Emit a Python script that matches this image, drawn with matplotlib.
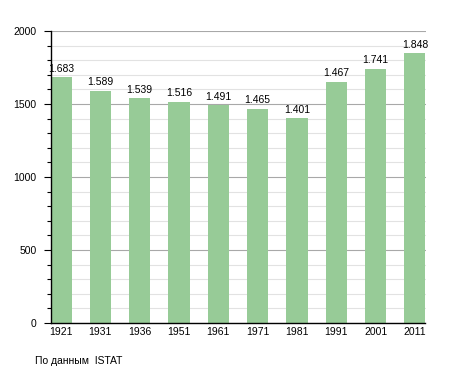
import numpy as np
import matplotlib
matplotlib.use("Agg")
import matplotlib.pyplot as plt
from matplotlib.ticker import MultipleLocator

plt.rcParams['font.family'] = ['Liberation Sans', 'DejaVu Sans']

# census years and population
years = ['1921', '1931', '1936', '1951', '1961', '1971', '1981', '1991', '2001', '2011']
population = [1683, 1589, 1539, 1516, 1491, 1465, 1401, 1653, 1741, 1848]
labels = ['1.683', '1.589', '1.539', '1.516', '1.491', '1.465', '1.401', '1.467', '1.741', '1.848']

fig = plt.figure(figsize=(4.55, 3.73), dpi=100)
ax = fig.add_axes([50.5/455, 1 - 323/373, (425.5 - 50.5)/455, (323 - 31)/373])

x = np.arange(len(years))
w = 0.535
ax.bar(x, population, width=w, color='#97cb97', zorder=3)
for xi, v, s in zip(x, population, labels):
    ax.text(xi, v + 25, s, ha='center', va='bottom', fontsize=7.5, color='black')

ax.set_xlim(-w/2, len(years) - 1 + w/2)
ax.set_ylim(0, 2000)
ax.yaxis.set_major_locator(MultipleLocator(500))
ax.yaxis.set_minor_locator(MultipleLocator(100))
ax.grid(True, which='major', axis='y', color='#a8a8a8', lw=0.8, zorder=1)
ax.grid(True, which='minor', axis='y', color='#e2e2e2', lw=0.8, zorder=1)

ax.set_xticks(x)
ax.set_xticklabels(years)
ax.tick_params(axis='x', length=0, pad=3, labelsize=7.5)
ax.tick_params(axis='y', which='major', length=5, width=0.8, pad=5, labelsize=7.5)
ax.tick_params(axis='y', which='minor', length=3, width=0.8)

for s in ['top', 'right']:
    ax.spines[s].set_visible(False)
ax.spines['left'].set_linewidth(1)
ax.spines['bottom'].set_linewidth(1)
ax.spines['left'].set_zorder(4)
ax.spines['bottom'].set_zorder(4)

fig.text(35/455, 1 - 361/373, 'По данным  ISTAT', fontsize=7.5, va='center', ha='left')

fig.savefig('out.png', dpi=100)
